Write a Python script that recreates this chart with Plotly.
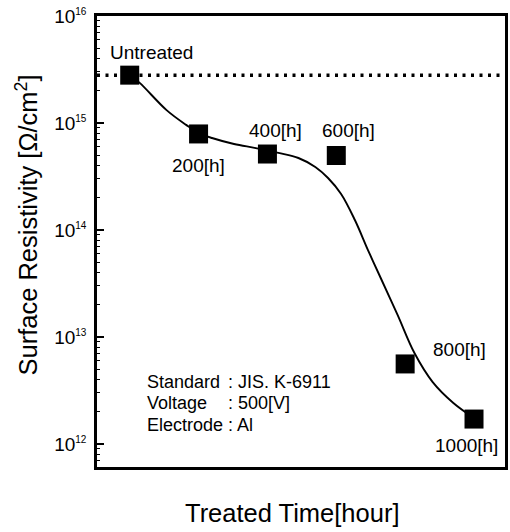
import math
import plotly.graph_objects as go

# measured points
point_labels = ["Untreated", "200[h]", "400[h]", "600[h]", "800[h]", "1000[h]"]
point_hours = [0, 200, 400, 600, 800, 1000]
point_values = [2.8e15, 7.9e14, 5.13e14, 4.97e14, 5.6e12, 1.71e12]

# fitted trend curve
curve_hours = [0, 29, 107, 164, 200, 239, 303, 366, 432, 490, 539, 576, 614, 654,
               692, 729, 778, 827, 880, 940, 1000]
curve_values = [2.8e15, 2.37e15, 1.32e15, 9.6e14, 8.07e14, 7.24e14, 6.37e14, 5.83e14,
                5.25e14, 4.71e14, 3.88e14, 3.06e14, 2.17e14, 1.24e14, 6.5e13, 3.56e13,
                1.61e13, 7.08e12, 3.79e12, 2.42e12, 1.75e12]

untreated_level = 2.8e15
x_range = [-95, 1090]

tick_exponents = [12, 13, 14, 15, 16]

info_keys = ["Standard", "Voltage", "Electrode"]
info_vals = [": JIS. K-6911", ": 500[V]", ": Al"]

x_title = "Treated Time[hour]"
y_title = "Surface Resistivity [Ω/cm<sup>2</sup>]"

label_shift = [(22, 23), (0, -32), (8, 24), (12, 25), (54, 14), (-8, -26)]

FONT = "Liberation Sans, Arial, sans-serif"

fig = go.Figure()
fig.add_trace(go.Scatter(x=x_range, y=[untreated_level, untreated_level], mode="lines",
                         line=dict(color="black", width=3.5, dash="3px,5.5px"),
                         hoverinfo="skip"))
fig.add_trace(go.Scatter(x=curve_hours, y=curve_values, mode="lines",
                         line=dict(color="black", width=1.9, shape="spline", smoothing=1.0),
                         hoverinfo="skip"))
fig.add_trace(go.Scatter(x=point_hours, y=point_values, mode="markers",
                         marker=dict(symbol="square", size=19, color="black",
                                     line=dict(width=0))))

for lab, h, v, (dx, dy) in zip(point_labels, point_hours, point_values, label_shift):
    fig.add_annotation(x=h, y=math.log10(v), text=lab, showarrow=False,
                       xshift=dx, yshift=dy, font=dict(size=19, color="black", family=FONT))

def px_x(px):
    return (px - 97) / 411

def px_y(py):
    return (467 - py) / 451

info_y = [382, 403, 425]
for key, val, ypix in zip(info_keys, info_vals, info_y):
    fig.add_annotation(xref="paper", yref="paper", x=px_x(145), y=px_y(ypix),
                       xanchor="left", yanchor="middle", text=key, showarrow=False,
                       font=dict(size=18, color="black", family=FONT))
    fig.add_annotation(xref="paper", yref="paper", x=px_x(227), y=px_y(ypix),
                       xanchor="left", yanchor="middle", text=val, showarrow=False,
                       font=dict(size=18, color="black", family=FONT))

fig.add_annotation(xref="paper", yref="paper", x=px_x(293), y=px_y(513),
                   xanchor="center", yanchor="middle", text=x_title, showarrow=False,
                   font=dict(size=25.5, color="black", family=FONT))
fig.add_annotation(xref="paper", yref="paper", x=px_x(26), y=px_y(225),
                   xanchor="center", yanchor="middle", text=y_title, showarrow=False,
                   textangle=-90, font=dict(size=25.5, color="black", family=FONT))

fig.update_layout(
    width=510, height=532,
    margin=dict(l=97, r=2, t=16, b=65),
    paper_bgcolor="white", plot_bgcolor="white",
    showlegend=False,
    font=dict(family=FONT, color="black"),
    xaxis=dict(range=x_range, showgrid=False, zeroline=False, showticklabels=False,
               ticks="", showline=True, linecolor="black", linewidth=2.5, mirror=True),
    yaxis=dict(type="log", range=[11.785, 16], showgrid=False, zeroline=False,
               showline=True, linecolor="black", linewidth=2.5, mirror=True,
               ticks="inside", ticklen=7, tickwidth=1.5, tickcolor="black",
               tickmode="array",
               tickvals=[10 ** e for e in tick_exponents],
               ticktext=["10<sup><span style='font-size:10px'>%d</span></sup>" % e
                         for e in tick_exponents],
               tickfont=dict(size=19, family=FONT),
               ticklabelstandoff=4,
               minor=dict(ticks="inside", ticklen=3.5, tickwidth=1.2, tickcolor="black",
                          tickmode="array",
                          tickvals=[m * 10 ** e for e in range(11, 16) for m in range(2, 10)],
                          showgrid=False)),
)

fig.write_html("out.html")
